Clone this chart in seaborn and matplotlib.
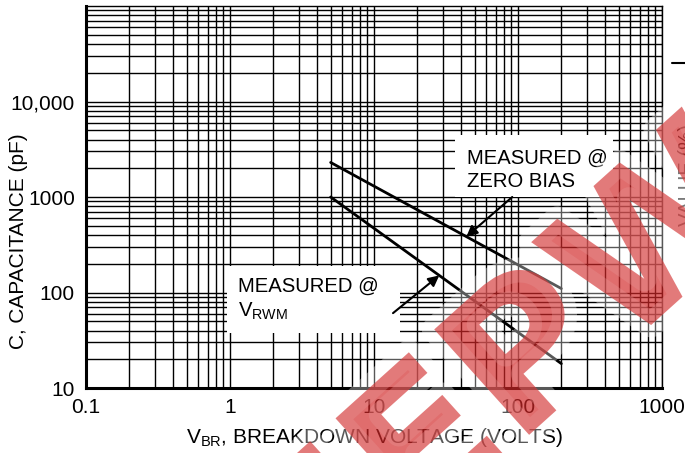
import numpy as np
import matplotlib.pyplot as plt
import matplotlib.ticker as mticker
import matplotlib.patheffects as pe
from matplotlib.lines import Line2D
from matplotlib.patches import Rectangle
import pandas as pd
import seaborn as sns

# end points of the two straight (log-log) curves
vbr = [5, 200]
cap_zero_bias = [2300, 110]
cap_vrwm = [1000, 18]

x_ticks = [0.1, 1, 10, 100, 1000]
x_ticklabels = ['0.1', '1', '10', '100', '1000']
y_ticks = [10, 100, 1000, 10000]
y_ticklabels = ['10', '100', '1000', '10,000']

# arrow targets on the curves
arrow_zero_bias = (43.8, 384)
arrow_vrwm = (28.4, 151)

df = pd.DataFrame({
    'vbr': vbr * 2,
    'cap': cap_zero_bias + cap_vrwm,
    'curve': ['zero bias'] * 2 + ['vrwm'] * 2,
})

sns.set_theme(style='white')
plt.rcParams['font.family'] = ['Liberation Sans', 'DejaVu Sans']
plt.rcParams['mathtext.default'] = 'regular'

fig = plt.figure(figsize=(6.85, 4.53), dpi=100)
ax = fig.add_axes([86 / 685, 1 - 388 / 453, 576 / 685, 382 / 453])

sns.lineplot(data=df, x='vbr', y='cap', hue='curve', palette=['black', 'black'],
             linewidth=2.0, legend=False, ax=ax, zorder=3)

ax.set_xscale('log')
ax.set_yscale('log')
ax.set_xlim(0.1, 1000)
ax.set_ylim(10, 100000)

ax.xaxis.set_major_locator(mticker.FixedLocator(x_ticks))
ax.xaxis.set_major_formatter(mticker.FixedFormatter(x_ticklabels))
ax.yaxis.set_major_locator(mticker.FixedLocator(y_ticks))
ax.yaxis.set_major_formatter(mticker.FixedFormatter(y_ticklabels))
ax.xaxis.set_minor_locator(mticker.LogLocator(base=10, subs=np.arange(2, 10), numticks=20))
ax.yaxis.set_minor_locator(mticker.LogLocator(base=10, subs=np.arange(2, 10), numticks=20))
ax.xaxis.set_minor_formatter(mticker.NullFormatter())
ax.yaxis.set_minor_formatter(mticker.NullFormatter())

ax.set_axisbelow(True)
ax.grid(True, which='both', color='black', linewidth=1.0)
ax.tick_params(which='both', length=0, labelsize=15, colors='black')
ax.tick_params(axis='x', pad=7)
ax.tick_params(axis='y', pad=8)

for side in ['left', 'bottom']:
    ax.spines[side].set_linewidth(2.2)
for side in ['top', 'right']:
    ax.spines[side].set_linewidth(1.0)
for sp in ax.spines.values():
    sp.set_color('black')

ax.set_xlabel('V$_{BR}$, BREAKDOWN VOLTAGE (VOLTS)', fontsize=15, color='black')
ax.set_ylabel('C, CAPACITANCE (pF)', fontsize=15, color='black')
ax.xaxis.set_label_coords(0.5, -0.1)
ax.yaxis.set_label_coords(-0.1, 0.385)

# annotation boxes
ax.add_patch(Rectangle((0.641, 0.5), 0.274, 0.162, transform=ax.transAxes,
                       facecolor='white', edgecolor='none', zorder=4))
ax.text(0.661, 0.571, 'MEASURED @\nZERO BIAS', transform=ax.transAxes, fontsize=14.6,
        ha='left', va='center', linespacing=1.25, zorder=5, color='black')
ax.annotate('', xy=arrow_zero_bias, xycoords='data', xytext=(0.740, 0.5),
            textcoords='axes fraction', zorder=5,
            arrowprops=dict(arrowstyle='-|>', color='black', lw=1.5, mutation_scale=16,
                            shrinkA=0, shrinkB=0))

ax.add_patch(Rectangle((0.245, 0.144), 0.300, 0.175, transform=ax.transAxes,
                       facecolor='white', edgecolor='none', zorder=4))
ax.text(0.264, 0.232, 'MEASURED @\nV$_{RWM}$', transform=ax.transAxes, fontsize=14.6,
        ha='left', va='center', linespacing=1.25, zorder=5, color='black')
ax.annotate('', xy=arrow_vrwm, xycoords='data', xytext=(0.533, 0.196),
            textcoords='axes fraction', zorder=5,
            arrowprops=dict(arrowstyle='-|>', color='black', lw=1.5, mutation_scale=16,
                            shrinkA=0, shrinkB=0))

# cropped neighbour chart on the right edge
fig.text(678 / 685, 1 - 175 / 453, 'VALUE (%)', rotation=90, ha='left', va='center',
         fontsize=14.6, color='#333333')
fig.add_artist(Line2D([672 / 685, 1.0], [1 - 63 / 453] * 2, transform=fig.transFigure,
                      color='black', lw=1.5))

# watermark
fig.text(0.75, 0.17, 'EEPW', rotation=42, fontsize=140, fontweight='bold',
         family='DejaVu Sans', color='#d22828', alpha=0.5, ha='center', va='center',
         zorder=10,
         path_effects=[pe.Stroke(linewidth=18, foreground='white', alpha=0.35), pe.Normal()])

fig.savefig('out.png', dpi=100)
